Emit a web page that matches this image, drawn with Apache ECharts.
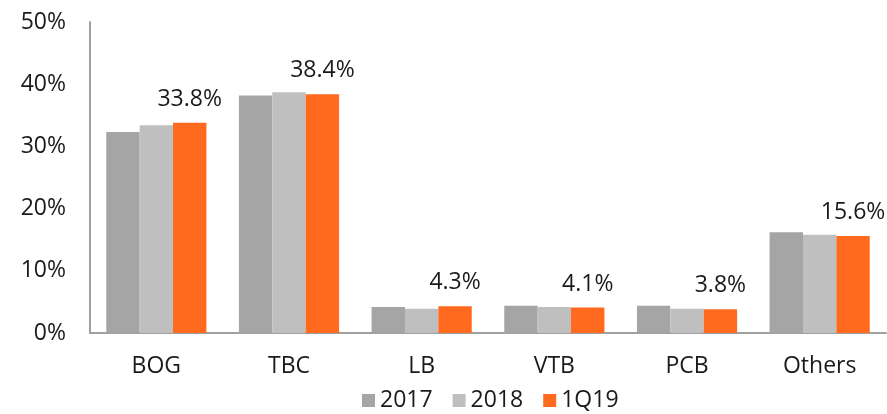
<!DOCTYPE html>
<html style="height: 100%">
<head>
    <meta charset="utf-8">
    <script type="text/javascript" src="https://cdn.jsdelivr.net/npm/echarts@6/dist/echarts.min.js"></script>
</head>
<body style="height: 100%; margin: 0; background: #fff">
<div id="container" style="width: 887px; height: 414px"></div>
<script type="text/javascript">
    // market shares, %
    var banks = ['BOG', 'TBC', 'LB', 'VTB', 'PCB', 'Others'];
    var share2017 = [32.3, 38.2, 4.2, 4.4, 4.4, 16.2];
    var share2018 = [33.4, 38.7, 3.9, 4.2, 3.9, 15.8];
    var share1Q19 = [33.8, 38.4, 4.3, 4.1, 3.8, 15.6];
    var yTicks = [0, 10, 20, 30, 40, 50];

    var font = 'Open Sans';
    var txt = '#1a1a1a';
    var dom = document.getElementById('container');
    var myChart = echarts.init(dom);

    var option = {
        animation: false,
        textStyle: {fontFamily: font},
        grid: {left: 90, right: 1, top: 22, bottom: 81},
        legend: {
            top: 389,
            left: 362,
            padding: 0,
            itemWidth: 13,
            itemHeight: 13,
            itemGap: 20,
            icon: 'rect',
            textStyle: {fontSize: 23, color: txt, fontFamily: font}
        },
        xAxis: {
            type: 'category',
            data: banks,
            axisLine: {lineStyle: {color: '#A0A0A0', width: 2}},
            axisTick: {show: false},
            axisLabel: {fontSize: 23, color: txt, margin: 22}
        },
        yAxis: {
            type: 'value',
            min: yTicks[0],
            max: yTicks[yTicks.length - 1],
            interval: 10,
            axisLine: {show: true, lineStyle: {color: '#A0A0A0', width: 2}},
            axisTick: {show: false},
            splitLine: {show: false},
            axisLabel: {fontSize: 23, color: txt, margin: 24, formatter: '{value}%'}
        },
        series: [
            {
                name: '2017', type: 'bar', data: share2017,
                barGap: 0, barCategoryGap: '24.5%',
                itemStyle: {color: '#A5A5A5'}
            },
            {
                name: '2018', type: 'bar', data: share2018,
                barGap: 0, barCategoryGap: '24.5%',
                itemStyle: {color: '#BFBFBF'}
            },
            {
                name: '1Q19', type: 'bar', data: share1Q19,
                barGap: 0, barCategoryGap: '24.5%',
                itemStyle: {color: '#FF6A1F'},
                label: {
                    show: true,
                    position: 'top',
                    distance: 12,
                    fontSize: 23,
                    color: txt,
                    formatter: function (p) { return p.value.toFixed(1) + '%'; }
                }
            }
        ]
    };
    myChart.setOption(option);
</script>
</body>
</html>
